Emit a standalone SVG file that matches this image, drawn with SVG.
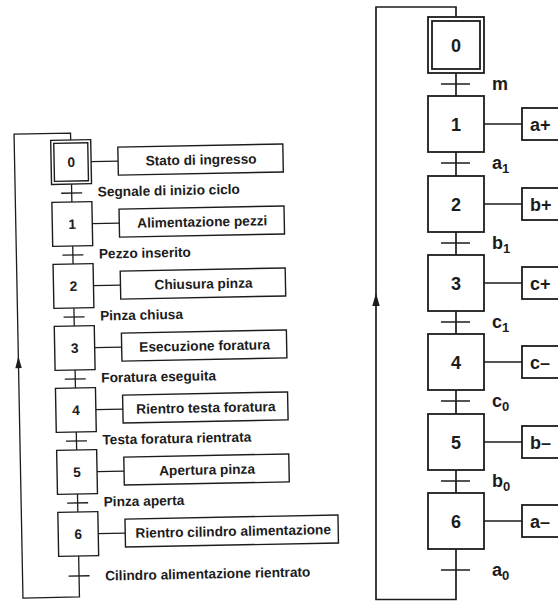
<svg xmlns="http://www.w3.org/2000/svg" width="558" height="601" viewBox="0 0 558 601">
<style>
.box{fill:#fff;stroke:#1c1c1c;stroke-width:1.4}
.rbox{fill:#fff;stroke:#1c1c1c;stroke-width:1.8}
.ln{fill:none;stroke:#1c1c1c;stroke-width:1.3}
.rln{fill:none;stroke:#1c1c1c;stroke-width:1.7}
.ar{fill:#1c1c1c;stroke:none}
.t{font-family:"Liberation Sans",Arial,sans-serif;font-weight:bold;fill:#1c1c1c}
.ls{font-size:13.7px}
.rs{font-size:18px}
.c{text-anchor:middle}
</style>
<rect width="558" height="601" fill="#fff"/>

<g id="left-grafcet" transform="rotate(-1.1 75 365)">
  <g id="left-connectors">
    <path class="ln" d="M75 140 V133 H18.5 V597 H75 V556"/>
    <path class="ln" d="M75 184 V202 M75 246 V264 M75 308 V326 M75 370 V388 M75 432 V450 M75 494 V512"/>
    <path class="ln" d="M64.5 193 H85.5 M64.5 255 H85.5 M64.5 317 H85.5 M64.5 379 H85.5 M64.5 441 H85.5 M64.5 503 H85.5 M64.5 576 H85.5"/>
    <path class="ln" d="M95 162 H122 M95 224 H122 M95 286 H122 M95 348 H122 M95 410 H122 M95 472 H122 M95 534 H122"/>
    <polygon class="ar" points="18.5,355 15.3,367 21.7,367"/>
  </g>
  <g id="L0">
    <rect class="box" x="55" y="140" width="40" height="44"/>
    <rect class="box" x="58" y="143" width="34" height="38"/>
    <text class="t ls c" x="75" y="167">0</text>
  </g>
  <g id="L0-action">
    <rect class="box" x="122" y="148" width="165" height="28"/>
    <text class="t ls c" x="205" y="167">Stato di ingresso</text>
  </g>
  <g id="L1">
    <rect class="box" x="55" y="202" width="40" height="44"/>
    <text class="t ls c" x="75" y="229">1</text>
  </g>
  <g id="L1-action">
    <rect class="box" x="122" y="210" width="165" height="28"/>
    <text class="t ls c" x="205" y="229">Alimentazione pezzi</text>
  </g>
  <g id="L2">
    <rect class="box" x="55" y="264" width="40" height="44"/>
    <text class="t ls c" x="75" y="291">2</text>
  </g>
  <g id="L2-action">
    <rect class="box" x="122" y="272" width="165" height="28"/>
    <text class="t ls c" x="205" y="291">Chiusura pinza</text>
  </g>
  <g id="L3">
    <rect class="box" x="55" y="326" width="40" height="44"/>
    <text class="t ls c" x="75" y="353">3</text>
  </g>
  <g id="L3-action">
    <rect class="box" x="122" y="334" width="165" height="28"/>
    <text class="t ls c" x="205" y="353">Esecuzione foratura</text>
  </g>
  <g id="L4">
    <rect class="box" x="55" y="388" width="40" height="44"/>
    <text class="t ls c" x="75" y="415">4</text>
  </g>
  <g id="L4-action">
    <rect class="box" x="122" y="396" width="165" height="28"/>
    <text class="t ls c" x="205" y="415">Rientro testa foratura</text>
  </g>
  <g id="L5">
    <rect class="box" x="55" y="450" width="40" height="44"/>
    <text class="t ls c" x="75" y="477">5</text>
  </g>
  <g id="L5-action">
    <rect class="box" x="122" y="458" width="165" height="28"/>
    <text class="t ls c" x="205" y="477">Apertura pinza</text>
  </g>
  <g id="L6">
    <rect class="box" x="55" y="512" width="40" height="44"/>
    <text class="t ls c" x="75" y="539">6</text>
  </g>
  <g id="L6-action">
    <rect class="box" x="122" y="520" width="213" height="28"/>
    <text class="t ls c" x="230" y="539">Rientro cilindro alimentazione</text>
  </g>
  <g id="left-transitions">
    <text class="t ls" x="101" y="197">Segnale di inizio ciclo</text>
    <text class="t ls" x="101" y="259">Pezzo inserito</text>
    <text class="t ls" x="101" y="321">Pinza chiusa</text>
    <text class="t ls" x="101" y="383">Foratura eseguita</text>
    <text class="t ls" x="101" y="445">Testa foratura rientrata</text>
    <text class="t ls" x="101" y="507">Pinza aperta</text>
    <text class="t ls" x="101" y="581">Cilindro alimentazione rientrato</text>
  </g>
</g>

<g id="right-grafcet">
  <g id="right-connectors">
    <path class="rln" d="M456 17 V7 H376 V599.5 H456 V549"/>
    <path class="rln" d="M456 73 V96 M456 152 V176 M456 232 V255 M456 311 V334 M456 390 V414 M456 470 V493"/>
    <path class="rln" d="M441 84 H470 M441 163 H470 M441 243 H470 M441 322 H470 M441 401 H470 M441 481 H470 M441 570 H470"/>
    <path class="rln" d="M484 124 H522 M484 204 H522 M484 283 H522 M484 362 H522 M484 442 H522 M484 521 H522"/>
    <polygon class="ar" points="376,293 372.3,306 379.7,306"/>
  </g>
  <g id="R0">
    <rect class="rbox" x="428" y="17" width="56" height="56"/>
    <rect class="rbox" x="432" y="21" width="48" height="48"/>
    <text class="t rs c" x="456" y="51.5">0</text>
  </g>
  <g id="R1">
    <rect class="rbox" x="428" y="96" width="56" height="56"/>
    <text class="t rs c" x="456" y="130.5">1</text>
  </g>
  <g id="R1-action">
    <rect class="rbox" x="522" y="108" width="60" height="32"/>
    <text class="t rs" x="530" y="130.5">a+</text>
  </g>
  <g id="R2">
    <rect class="rbox" x="428" y="176" width="56" height="56"/>
    <text class="t rs c" x="456" y="210.5">2</text>
  </g>
  <g id="R2-action">
    <rect class="rbox" x="522" y="188" width="60" height="32"/>
    <text class="t rs" x="530" y="210.5">b+</text>
  </g>
  <g id="R3">
    <rect class="rbox" x="428" y="255" width="56" height="56"/>
    <text class="t rs c" x="456" y="289.5">3</text>
  </g>
  <g id="R3-action">
    <rect class="rbox" x="522" y="267" width="60" height="32"/>
    <text class="t rs" x="530" y="289.5">c+</text>
  </g>
  <g id="R4">
    <rect class="rbox" x="428" y="334" width="56" height="56"/>
    <text class="t rs c" x="456" y="368.5">4</text>
  </g>
  <g id="R4-action">
    <rect class="rbox" x="522" y="346" width="60" height="32"/>
    <text class="t rs" x="530" y="368.5">c–</text>
  </g>
  <g id="R5">
    <rect class="rbox" x="428" y="414" width="56" height="56"/>
    <text class="t rs c" x="456" y="448.5">5</text>
  </g>
  <g id="R5-action">
    <rect class="rbox" x="522" y="426" width="60" height="32"/>
    <text class="t rs" x="530" y="448.5">b–</text>
  </g>
  <g id="R6">
    <rect class="rbox" x="428" y="493" width="56" height="56"/>
    <text class="t rs c" x="456" y="527.5">6</text>
  </g>
  <g id="R6-action">
    <rect class="rbox" x="522" y="505" width="60" height="32"/>
    <text class="t rs" x="530" y="527.5">a–</text>
  </g>
  <g id="right-transitions">
    <text class="t rs" x="492" y="90">m</text>
    <text class="t rs" x="492" y="169">a<tspan font-size="13" dy="4">1</tspan></text>
    <text class="t rs" x="492" y="249">b<tspan font-size="13" dy="4">1</tspan></text>
    <text class="t rs" x="492" y="328">c<tspan font-size="13" dy="4">1</tspan></text>
    <text class="t rs" x="492" y="407">c<tspan font-size="13" dy="4">0</tspan></text>
    <text class="t rs" x="492" y="487">b<tspan font-size="13" dy="4">0</tspan></text>
    <text class="t rs" x="492" y="576">a<tspan font-size="13" dy="4">0</tspan></text>
  </g>
</g>
</svg>
